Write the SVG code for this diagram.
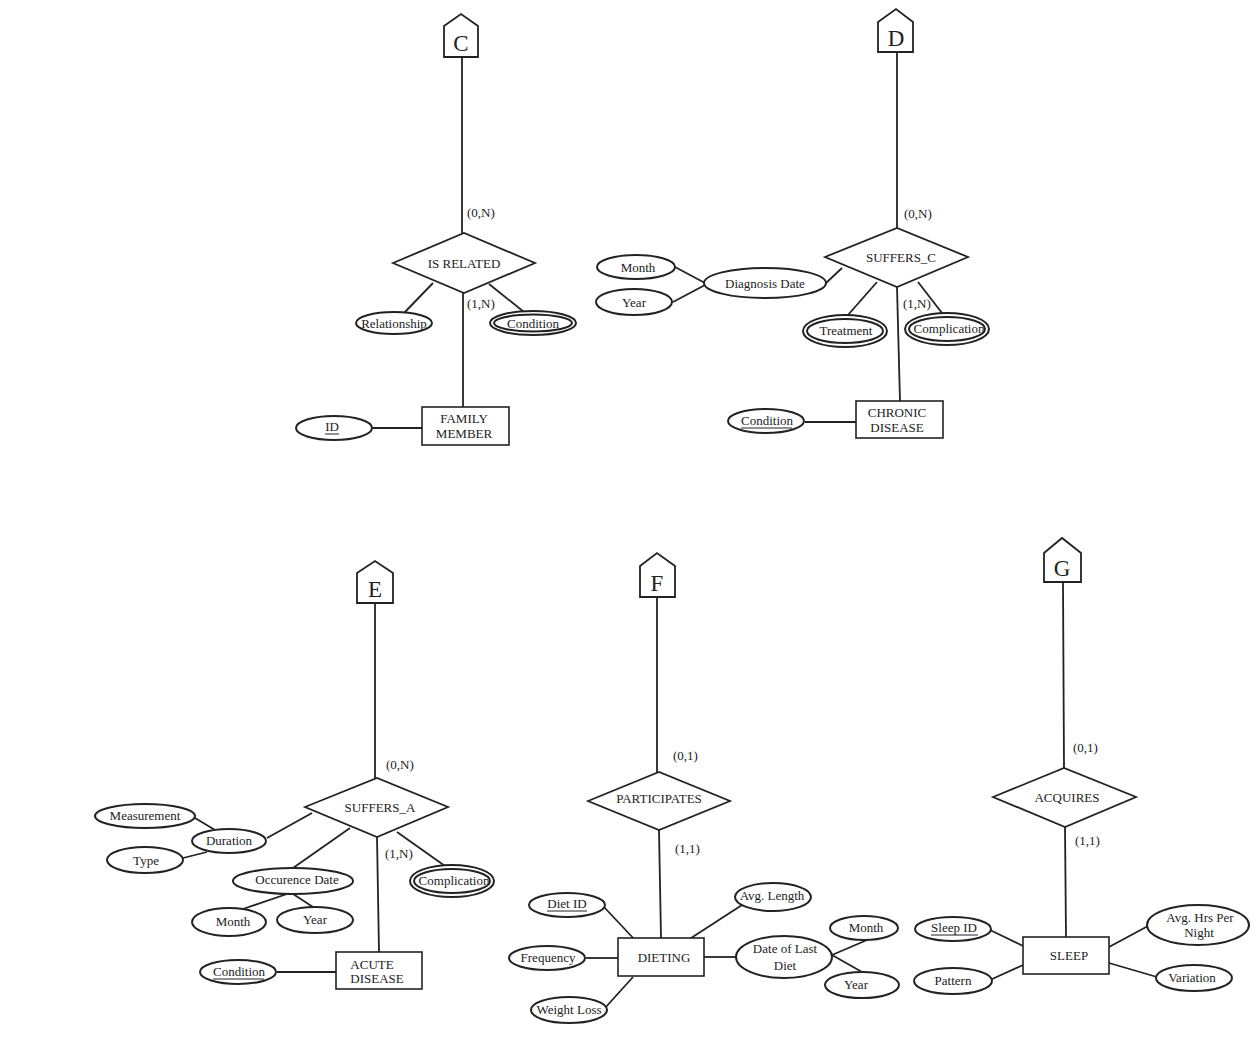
<svg xmlns="http://www.w3.org/2000/svg" width="1255" height="1053" viewBox="0 0 1255 1053">
<style>
text{font-family:"Liberation Serif","Times New Roman",serif;font-size:13px;fill:#222;text-anchor:middle;dominant-baseline:central}
.big{font-size:23px}
.sh{fill:#fff;stroke:#222;stroke-width:1.8}
.ent{fill:#fff;stroke:#222;stroke-width:1.6}
.att{fill:#fff;stroke:#222;stroke-width:2}
.con line{stroke:#222;stroke-width:1.8}
.card{text-anchor:start}
</style>
<rect width="1255" height="1053" fill="#fff"/>
<g class="con">
<!-- C section -->
<line x1="462" y1="57" x2="462" y2="233"/>
<line x1="433" y1="283" x2="404" y2="313"/>
<line x1="489" y1="284" x2="524" y2="312"/>
<line x1="463" y1="293" x2="463" y2="407"/>
<line x1="372" y1="428" x2="422" y2="428"/>
<!-- D section -->
<line x1="897" y1="52" x2="897" y2="228"/>
<line x1="826" y1="283" x2="842" y2="268"/>
<line x1="675" y1="267" x2="705" y2="283"/>
<line x1="673" y1="302" x2="705" y2="285"/>
<line x1="877" y1="282" x2="848" y2="315"/>
<line x1="918" y1="282" x2="942" y2="313"/>
<line x1="897" y1="287" x2="900" y2="401"/>
<line x1="805" y1="422" x2="856" y2="422"/>
<!-- E section -->
<line x1="375" y1="603" x2="375" y2="778"/>
<line x1="267" y1="838" x2="312" y2="813"/>
<line x1="195" y1="818" x2="215" y2="830"/>
<line x1="183" y1="858" x2="207" y2="852"/>
<line x1="350" y1="828" x2="293" y2="868"/>
<line x1="287" y1="894" x2="243" y2="909"/>
<line x1="293" y1="894" x2="313" y2="907"/>
<line x1="397" y1="832" x2="445" y2="866"/>
<line x1="377" y1="837" x2="379" y2="952"/>
<line x1="277" y1="972" x2="336" y2="972"/>
<!-- F section -->
<line x1="657" y1="597" x2="657" y2="772"/>
<line x1="659" y1="830" x2="661" y2="938"/>
<line x1="604" y1="907" x2="635" y2="940"/>
<line x1="586" y1="958" x2="618" y2="958"/>
<line x1="605" y1="1008" x2="633" y2="977"/>
<line x1="688" y1="940" x2="742" y2="905"/>
<line x1="704" y1="957" x2="736" y2="957"/>
<line x1="832" y1="955" x2="867" y2="940"/>
<line x1="832" y1="955" x2="862" y2="972"/>
<!-- G section -->
<line x1="1063" y1="582" x2="1064" y2="768"/>
<line x1="1065" y1="827" x2="1066" y2="937"/>
<line x1="990" y1="930" x2="1023" y2="946"/>
<line x1="990" y1="980" x2="1023" y2="965"/>
<line x1="1109" y1="947" x2="1148" y2="926"/>
<line x1="1109" y1="963" x2="1157" y2="977"/>
</g>
<g class="labels">
<text class="card" x="467" y="212">(0,N)</text>
<text class="card" x="467" y="303">(1,N)</text>
<text class="card" x="904" y="213">(0,N)</text>
<text class="card" x="903" y="303">(1,N)</text>
<text class="card" x="386" y="764">(0,N)</text>
<text class="card" x="385" y="853">(1,N)</text>
<text class="card" x="673" y="755">(0,1)</text>
<text class="card" x="675" y="848">(1,1)</text>
<text class="card" x="1073" y="747">(0,1)</text>
<text class="card" x="1075" y="840">(1,1)</text>
</g>
<!-- C section nodes -->
<g id="conn-C"><polygon class="sh" points="444,26 461,14 478,26 478,57 444,57"/><text class="big" x="461" y="43">C</text></g>
<g id="is-related"><polygon class="sh" points="393,263 464,233 535,263 464,293"/><text x="464" y="263">IS RELATED</text></g>
<g id="relationship"><ellipse class="att" cx="394" cy="323" rx="38" ry="11"/><text x="394" y="323">Relationship</text></g>
<g id="condition-c"><ellipse class="att" cx="533" cy="323" rx="43" ry="12"/><ellipse class="att" cx="533" cy="323" rx="39" ry="8.5"/><text x="533" y="323">Condition</text></g>
<g id="family-member"><rect class="ent" x="422" y="407" width="87" height="38"/><text x="464" y="418">FAMILY</text><text x="464" y="433">MEMBER</text></g>
<g id="id-fm"><ellipse class="att" cx="334" cy="428" rx="38" ry="12"/><text x="332" y="426">ID</text><line x1="325" y1="434" x2="339" y2="434" stroke="#222" stroke-width="1"/></g>
<!-- D section nodes -->
<g id="conn-D"><polygon class="sh" points="878,22 896,9 913,22 913,52 878,52"/><text class="big" x="896" y="38">D</text></g>
<g id="suffers-c"><polygon class="sh" points="825,257 897,228 968,257 897,287"/><text x="901" y="257">SUFFERS_C</text></g>
<g id="diagnosis-date"><ellipse class="att" cx="765" cy="283" rx="61" ry="15"/><text x="765" y="283">Diagnosis Date</text></g>
<g id="month-d"><ellipse class="att" cx="636" cy="267" rx="39" ry="12"/><text x="638" y="267">Month</text></g>
<g id="year-d"><ellipse class="att" cx="634" cy="302" rx="38" ry="13"/><text x="634" y="302">Year</text></g>
<g id="treatment"><ellipse class="att" cx="845" cy="331" rx="42" ry="16"/><ellipse class="att" cx="845" cy="331" rx="38" ry="12"/><text x="846" y="330">Treatment</text></g>
<g id="complication-c"><ellipse class="att" cx="947" cy="329" rx="42" ry="16"/><ellipse class="att" cx="947" cy="329" rx="38" ry="12"/><text x="949" y="328">Complication</text></g>
<g id="chronic-disease"><rect class="ent" x="856" y="401" width="87" height="37"/><text x="897" y="412">CHRONIC</text><text x="897" y="427">DISEASE</text></g>
<g id="condition-d"><ellipse class="att" cx="766" cy="421" rx="38" ry="12"/><text x="767" y="420">Condition</text><line x1="741" y1="428" x2="792" y2="428" stroke="#222" stroke-width="1"/></g>
<!-- E section nodes -->
<g id="conn-E"><polygon class="sh" points="357,573 375,561 393,573 393,603 357,603"/><text class="big" x="375" y="589">E</text></g>
<g id="suffers-a"><polygon class="sh" points="305,807 377,778 448,807 377,837"/><text x="380" y="807">SUFFERS_A</text></g>
<g id="duration"><ellipse class="att" cx="229" cy="841" rx="37" ry="12"/><text x="229" y="840">Duration</text></g>
<g id="measurement"><ellipse class="att" cx="145" cy="816" rx="50" ry="12"/><text x="145" y="815">Measurement</text></g>
<g id="type"><ellipse class="att" cx="145" cy="860" rx="38" ry="13"/><text x="146" y="860">Type</text></g>
<g id="occurence-date"><ellipse class="att" cx="293" cy="881" rx="60" ry="13"/><text x="297" y="879">Occurence Date</text></g>
<g id="month-e"><ellipse class="att" cx="229" cy="922" rx="37" ry="14"/><text x="233" y="921">Month</text></g>
<g id="year-e"><ellipse class="att" cx="315" cy="920" rx="38" ry="13"/><text x="315" y="919">Year</text></g>
<g id="complication-a"><ellipse class="att" cx="452" cy="881" rx="42" ry="16"/><ellipse class="att" cx="452" cy="881" rx="38" ry="12"/><text x="454" y="880">Complication</text></g>
<g id="acute-disease"><rect class="ent" x="336" y="952" width="86" height="37"/><text x="372" y="964">ACUTE</text><text x="377" y="978">DISEASE</text></g>
<g id="condition-e"><ellipse class="att" cx="238" cy="972" rx="38" ry="12"/><text x="239" y="971">Condition</text><line x1="213" y1="979" x2="264" y2="979" stroke="#222" stroke-width="1"/></g>
<!-- F section nodes -->
<g id="conn-F"><polygon class="sh" points="640,566 657,553 675,566 675,597 640,597"/><text class="big" x="657" y="583">F</text></g>
<g id="participates"><polygon class="sh" points="588,801 659,772 730,801 659,830"/><text x="659" y="798">PARTICIPATES</text></g>
<g id="dieting"><rect class="ent" x="618" y="938" width="86" height="38"/><text x="664" y="957">DIETING</text></g>
<g id="diet-id"><ellipse class="att" cx="567" cy="905" rx="38" ry="12"/><text x="567" y="903">Diet ID</text><line x1="547" y1="911" x2="587" y2="911" stroke="#222" stroke-width="1"/></g>
<g id="frequency"><ellipse class="att" cx="547" cy="958" rx="38" ry="12"/><text x="548" y="957">Frequency</text></g>
<g id="weight-loss"><ellipse class="att" cx="569" cy="1010" rx="38" ry="13"/><text x="569" y="1009">Weight Loss</text></g>
<g id="avg-length"><ellipse class="att" cx="773" cy="897" rx="38" ry="14"/><text x="772" y="895">Avg. Length</text></g>
<g id="date-last-diet"><ellipse class="att" cx="784" cy="957" rx="48" ry="21"/><text x="785" y="948">Date of Last</text><text x="785" y="965">Diet</text></g>
<g id="month-f"><ellipse class="att" cx="864" cy="928" rx="34" ry="12"/><text x="866" y="927">Month</text></g>
<g id="year-f"><ellipse class="att" cx="862" cy="985" rx="37" ry="13"/><text x="856" y="984">Year</text></g>
<!-- G section nodes -->
<g id="conn-G"><polygon class="sh" points="1044,553 1062,538 1081,553 1081,582 1044,582"/><text class="big" x="1062" y="568">G</text></g>
<g id="acquires"><polygon class="sh" points="993,797 1064,768 1136,797 1065,827"/><text x="1067" y="797">ACQUIRES</text></g>
<g id="sleep"><rect class="ent" x="1023" y="937" width="86" height="37"/><text x="1069" y="955">SLEEP</text></g>
<g id="sleep-id"><ellipse class="att" cx="953" cy="929" rx="38" ry="12"/><text x="954" y="927">Sleep ID</text><line x1="931" y1="935" x2="978" y2="935" stroke="#222" stroke-width="1"/></g>
<g id="pattern"><ellipse class="att" cx="953" cy="981" rx="39" ry="13"/><text x="953" y="980">Pattern</text></g>
<g id="avg-hrs"><ellipse class="att" cx="1198" cy="925" rx="51" ry="20"/><text x="1200" y="917">Avg. Hrs Per</text><text x="1199" y="932">Night</text></g>
<g id="variation"><ellipse class="att" cx="1194" cy="978" rx="38" ry="13"/><text x="1192" y="977">Variation</text></g>
</svg>
